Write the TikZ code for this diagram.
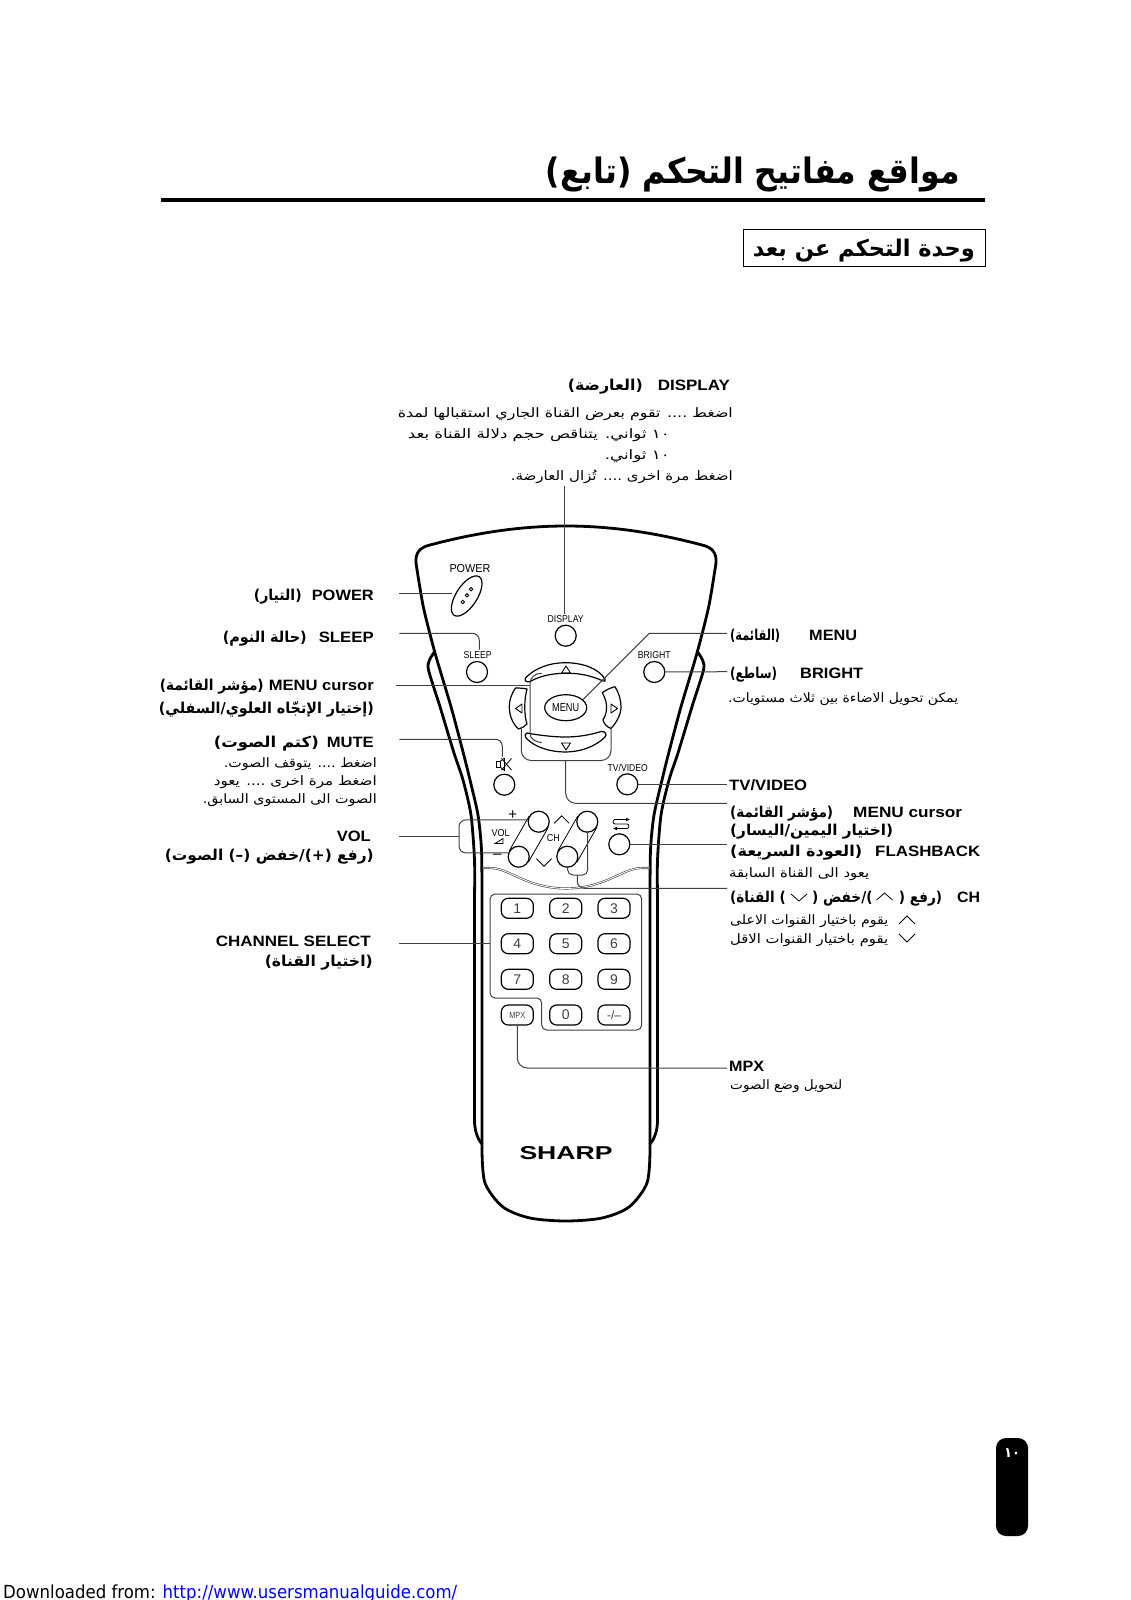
\documentclass[tikz,border=0pt]{standalone}
\usepackage{graphicx}
\usepackage{fontspec}
\usetikzlibrary{shapes.geometric,arrows.meta}
\setmainfont{Liberation Sans}
\newfontfamily\arfont[Script=Arabic]{DejaVu Sans}
\newfontfamily\dvfont{DejaVu Sans}
\TeXXeTstate=1
\newcommand\arbfit[2]{\resizebox{#1pt}{\height}{\arfont\bfseries #2}}
\newcommand\arrfit[2]{\resizebox{#1pt}{\height}{\arfont #2}}
\newcommand\latfit[2]{\resizebox{#1pt}{\height}{\bfseries #2}}
\newcommand\regfit[2]{\resizebox{#1pt}{\height}{#2}}
\newcommand\gapx[1]{\hspace*{#1pt}}
\definecolor{connc}{gray}{0.25}
\tikzset{
  x=1pt,y=-1pt,
  lab/.style={inner sep=0pt,font=\fontsize{15}{17}\selectfont},
  sub/.style={inner sep=0pt,font=\fontsize{13}{15}\selectfont},
  rem/.style={inner sep=0pt,font=\fontsize{11.5}{13}\selectfont},
  btn/.style={circle,draw=black,line width=1.2pt,fill=white,minimum size=21pt,inner sep=0pt},
  keyb/.style={rectangle,rounded corners=7pt,draw=black,line width=1.2pt,fill=white,minimum width=32pt,minimum height=20pt,inner sep=0pt,font=\fontsize{14}{16}\selectfont,text=black!75},
  conn/.style={draw=connc,line width=1pt,rounded corners=7pt},
  shell/.style={draw=black,line width=2.8pt,line join=round,line cap=round},
  pad/.style={draw=black,line width=1.2pt,line join=round,fill=white},
  tri/.style={draw=black,line width=.9pt,line join=round},
  thinl/.style={draw=black,line width=.8pt},
}
\begin{document}
\begin{tikzpicture}
\useasboundingbox (0,0) rectangle (1131,1600);
% header
\node[inner sep=0pt,anchor=base east,font=\fontsize{35}{38}\selectfont] (title) at (960,183) {\arbfit{414}{\beginR مواقع مفاتيح التحكم (تابع)\endR}};
\coordinate (ruleL) at (161,200); \coordinate (ruleR) at (985,200);
\draw[line width=3.6pt] (ruleL) -- (ruleR);
\node[draw=black,line width=.9pt,minimum width=242pt,minimum height=37pt,inner sep=0pt] (subbox) at (864,247.5) {};
\node[inner sep=0pt,anchor=base east,font=\fontsize{23}{25}\selectfont] (subtitle) at (975,256) {\arbfit{222}{\beginR وحدة التحكم عن بعد\endR}};
% display text
\node[lab,anchor=base east] (ldisplay) at (730,390) {\arbfit{75}{\beginR(العارضة)\endR}\gapx{15}\latfit{72}{DISPLAY}};
\node[sub,anchor=base east] (d1) at (733,417) {\arrfit{335}{\beginR اضغط .... تقوم بعرض القناة الجاري استقبالها لمدة\endR}};
\node[sub,anchor=base east] (d2) at (670,438.5) {\arrfit{262}{\beginR\beginL ١٠\endL{} ثواني. يتناقص حجم دلالة القناة بعد\endR}};
\node[sub,anchor=base east] (d3) at (670,459) {\arrfit{65}{\beginR\beginL ١٠\endL{} ثواني.\endR}};
\node[sub,anchor=base east] (d4) at (733,480.5) {\arrfit{222}{\beginR اضغط مرة اخرى .... تُزال العارضة.\endR}};
% left labels
\node[lab,anchor=base east] (lpower) at (374,600) {\arbfit{48}{\beginR(التيار)\endR}\gapx{10}\latfit{62}{POWER}};
\node[lab,anchor=base east] (lsleep) at (374,642.5) {\arbfit{84}{\beginR(حالة النوم)\endR}\gapx{12}\latfit{55}{SLEEP}};
\node[lab,anchor=base east] (lcursor) at (374,690) {\arbfit{104}{\beginR(مؤشر القائمة)\endR}\gapx{5}\latfit{105}{MENU cursor}};
\node[lab,anchor=base east] (lcursorb) at (374,713) {\arbfit{215}{\beginR(إختيار الإتجّاه العلوي/السفلي)\endR}};
\node[lab,anchor=base east] (lmute) at (374,747) {\arbfit{105}{\beginR(كتم الصوت)\endR}\gapx{8}\latfit{47}{MUTE}};
\node[sub,anchor=base east] (m1) at (377,767) {\arrfit{153}{\beginR اضغط .... يتوقف الصوت.\endR}};
\node[sub,anchor=base east] (m2) at (377,785) {\arrfit{163}{\beginR اضغط مرة اخرى .... يعود\endR}};
\node[sub,anchor=base east] (m3) at (377,803) {\arrfit{174}{\beginR الصوت الى المستوى السابق.\endR}};
\node[lab,anchor=base east] (lvol) at (371,841) {\latfit{34}{VOL}};
\node[lab,anchor=base east] (lvolb) at (374,860) {\arbfit{209}{\beginR(رفع (+)/خفض (–) الصوت)\endR}};
\node[lab,anchor=base east] (lchan) at (371,946) {\latfit{155}{CHANNEL SELECT}};
\node[lab,anchor=base east] (lchanb) at (373,966) {\arbfit{108}{\beginR(اختيار القناة)\endR}};
% right labels
\node[lab,anchor=base west] (lmenu) at (730,640) {\arbfit{50}{\beginR(القائمة)\endR}\gapx{29}\latfit{48}{MENU}};
\node[lab,anchor=base west] (lbright) at (730,678) {\arbfit{47}{\beginR(ساطع)\endR}\gapx{23}\latfit{63}{BRIGHT}};
\node[sub,anchor=base west] (b1) at (728,702) {\arrfit{230}{\beginR يمكن تحويل الاضاءة بين ثلاث مستويات.\endR}};
\node[lab,anchor=base west] (ltv) at (729,790) {\latfit{78}{TV/VIDEO}};
\node[lab,anchor=base west] (lcur) at (730,817) {\arbfit{103}{\beginR(مؤشر القائمة)\endR}\gapx{20}\latfit{109}{MENU cursor}};
\node[lab,anchor=base west] (lcurb) at (730,835) {\arbfit{163}{\beginR(اختيار اليمين/اليسار)\endR}};
\node[lab,anchor=base west] (lflash) at (730,856) {\arbfit{132}{\beginR(العودة السريعة)\endR}\gapx{13}\latfit{105}{FLASHBACK}};
\node[sub,anchor=base west] (f1) at (729,877) {\arrfit{140}{\beginR يعود الى القناة السابقة\endR}};
\node[lab,anchor=base west] (lch) at (730,902) {\arbfit{212}{\beginR(رفع (\gapx{29})/خفض (\gapx{29}) القناة)\endR}\gapx{15}\latfit{23}{CH}};
\node[sub,anchor=base west] (c1) at (730,924) {\arrfit{158}{\beginR يقوم باختيار القنوات الاعلى\endR}};
\node[sub,anchor=base west] (c2) at (730,943) {\arrfit{158}{\beginR يقوم باختيار القنوات الاقل\endR}};
\node[lab,anchor=base west] (lmpx) at (729,1071) {\latfit{35}{MPX}};
\node[sub,anchor=base west] (x1) at (730,1089) {\arrfit{112}{\beginR لتحويل وضع الصوت\endR}};
% chevrons in text
\coordinate (cu1) at (884.5,897); \coordinate (cd1) at (799,897);
\coordinate (cu2) at (907,920); \coordinate (cd2) at (907,938);
\draw[thinl] ([shift={(-8,3)}]cu1) -- ([shift={(0,-4)}]cu1) -- ([shift={(8,3)}]cu1);
\draw[thinl] ([shift={(-8,-3)}]cd1) -- ([shift={(0,4)}]cd1) -- ([shift={(8,-3)}]cd1);
\draw[thinl] ([shift={(-8,4)}]cu2) -- ([shift={(0,-4)}]cu2) -- ([shift={(8,4)}]cu2);
\draw[thinl] ([shift={(-8,-4)}]cd2) -- ([shift={(0,4)}]cd2) -- ([shift={(8,-4)}]cd2);
% remote shell
\draw[shell] plot[smooth,tension=.45] coordinates {(416,563) (423.3,606.7) (435,653) (451,706.7) (463.3,753) (470,780) (478,815) (481.5,850) (482,900)} -- (482,1150) plot[smooth,tension=.5] coordinates {(482,1150) (485,1183) (503,1207) (530,1218) (566,1221) (602,1218) (629,1207) (647,1183) (650,1150)} -- (650,900) plot[smooth,tension=.45] coordinates {(650,900) (650.5,850) (654,815) (662,780) (668.7,753) (681,706.7) (697,653) (708.7,606.7) (716,563)};
\draw[shell] (416,563) .. controls (415,552) and (421,547) .. (430,545) .. controls (475,533) and (520,526) .. (566,526) .. controls (612,526) and (657,533) .. (702,545) .. controls (711,547) and (717,552) .. (716,563);
\begin{scope}
\draw[shell] plot[smooth,tension=.45] coordinates {(435,651) (429.5,660) (428.5,670) (440,706.7) (454,753) (463,780) (471,815) (474.5,860) (474.5,900)} -- (474.5,1120) .. controls (474.5,1130) and (477,1138) .. (482,1144);
\end{scope}
\begin{scope}[shift={(1132,0)},xscale=-1]
\draw[shell] plot[smooth,tension=.45] coordinates {(435,651) (429.5,660) (428.5,670) (440,706.7) (454,753) (463,780) (471,815) (474.5,860) (474.5,900)} -- (474.5,1120) .. controls (474.5,1130) and (477,1138) .. (482,1144);
\end{scope}
% separator
\coordinate (sepL) at (482.5,868); \coordinate (sepR) at (649.5,868);
\draw[draw=connc,line width=.6pt,double=white,double distance=.9pt] (sepL) -- (490,868) .. controls (510,868) and (525,888) .. (566,888.5) .. controls (607,888) and (622,868) .. (642,868) -- (sepR);
% d-pad
\draw[pad] (525.7,677.7) .. controls (535,668) and (550,662.7) .. (565,662.7) .. controls (582,662.7) and (598,668) .. (605,679) .. controls (606,681) and (605,682) .. (603,681) .. controls (590,675) and (578,673) .. (565,673.3) .. controls (552,673.3) and (540,676) .. (530,681.5) .. controls (526,683) and (524,680) .. (525.7,677.7) -- cycle;
\draw[pad] (527,733) .. controls (540,735.5) and (555,737) .. (565,737) .. controls (578,737) and (590,735) .. (601,731.5) .. controls (606,731) and (607,735) .. (605,737) .. controls (595,747) and (580,752) .. (565,752) .. controls (550,752) and (535,747) .. (527,739) .. controls (524,736) and (525,733) .. (527,733) -- cycle;
\draw[pad] (527,689) .. controls (522,688) and (518,688) .. (515.5,688) .. controls (511,695) and (509.3,700) .. (509.3,707) .. controls (509.3,716) and (513,724) .. (518.5,729) .. controls (522,728) and (525,726.5) .. (527,724) .. controls (524,715) and (524,700) .. (527,689) -- cycle;
\draw[pad] (602.3,692.7) .. controls (606,690) and (611,687.5) .. (615,686.7) .. controls (619,693) and (621,700) .. (621,707) .. controls (621,715) and (616,723) .. (611,728.5) .. controls (607,727) and (604,724) .. (603,720) .. controls (606,715) and (607,710) .. (606.5,705) .. controls (606,700) and (604,696) .. (602.3,692.7) -- cycle;
\draw[tri] (561.5,673) -- (566,666) -- (570.5,673) -- cycle;
\draw[tri] (561.5,743) -- (566,750) -- (570.5,743) -- cycle;
\draw[tri] (522,704) -- (515.5,708.5) -- (522,713) -- cycle;
\draw[tri] (611,704) -- (617.5,708.5) -- (611,713) -- cycle;
\node[ellipse,draw=black,line width=1.2pt,fill=white,minimum width=42pt,minimum height=26pt,inner sep=0pt,font=\fontsize{11.5}{13}\selectfont] (menub) at (565.7,707.7) {\regfit{27}{MENU}};
% buttons
\node[ellipse,rotate=57,draw=black,line width=1.2pt,fill=white,minimum width=46pt,minimum height=21pt,inner sep=0pt] (power) at (466.7,596) {};
\foreach \n/\px/\py in {pa/462.7/602,pb/467/595.3,pc/471/589.3}
  \node[circle,draw=black,line width=.8pt,minimum size=3.5pt,inner sep=0pt] (\n) at (\px,\py) {};
\node[btn] (display) at (565.7,635.7) {};
\node[btn] (sleep) at (477,672) {};
\node[btn] (bright) at (654.3,672) {};
\node[btn] (mute) at (504.3,784.7) {};
\node[btn] (tv) at (627.3,784.3) {};
\node[btn] (flash) at (619.3,844.3) {};
\node[btn] (vup) at (538.7,821.7) {};
\node[btn] (vdn) at (518.7,856.7) {};
\node[btn] (cup) at (587.3,821.7) {};
\node[btn] (cdn) at (567.3,856.7) {};
\draw[thinl] (vup.150) -- (vdn.150) (vup.-30) -- (vdn.-30);
\draw[thinl] (cup.150) -- (cdn.150) (cup.-30) -- (cdn.-30);
% remote captions
\node[rem] (tpower) at (470,569) {\regfit{41}{POWER}};
\node[rem,font=\fontsize{10}{12}\selectfont] (tdisplay) at (565.7,619.5) {\regfit{36}{DISPLAY}};
\node[rem,font=\fontsize{10}{12}\selectfont] (tsleep) at (477.7,655.5) {\regfit{28}{SLEEP}};
\node[rem,font=\fontsize{10}{12}\selectfont] (tbright) at (654.3,655.5) {\regfit{33}{BRIGHT}};
\node[rem,font=\fontsize{10}{12}\selectfont] (ttv) at (627.7,767.5) {\regfit{40}{TV/VIDEO}};
\node[rem,font=\fontsize{10}{12}\selectfont] (tvol) at (500.7,833) {\regfit{18}{VOL}};
\node[rem,font=\fontsize{10}{12}\selectfont] (tch) at (553.3,838.5) {\regfit{13}{CH}};
\node[rem,font=\fontsize{15}{17}\selectfont] (tplus) at (512.7,815.2) {+};
\node[rem,font=\fontsize{15}{17}\selectfont] (tminus) at (497.3,856) {–};
\coordinate (chu) at (561.7,818.3); \coordinate (chd) at (544,861.7);
\draw[thinl] ([shift={(-7.5,5)}]chu) -- ([shift={(0,-2.5)}]chu) -- ([shift={(7.5,5)}]chu);
\draw[thinl] ([shift={(-7.5,-3)}]chd) -- ([shift={(0,4.5)}]chd) -- ([shift={(7.5,-3)}]chd);
\draw[thinl] (495,843.5) -- (503,838.5) -- (503,843.5) -- cycle;
% mute icon
\draw[thinl] (496.7,761.5) rectangle (500,767);
\draw[thinl] (500,761.5) -- (504.5,758) (500,767) -- (504.5,770.5) -- (504.5,758);
\draw[thinl] (501.5,758.5) -- (511.5,770) (511.5,758.5) -- (501.5,770);
% flashback icon
\draw[thinl,-{Latex[length=4pt,width=4pt]}] (615,819.5) -- (630,819.5);
\draw[thinl,-{Latex[length=4pt,width=4pt]}] (627,828.5) -- (613,828.5);
\draw[thinl] (615,819.5) .. controls (612.5,819.5) and (612.5,824) .. (615,824) -- (627,824) .. controls (629.5,824) and (629.5,828.5) .. (627,828.5);
% keypad
\node[keyb] (k1) at (517.3,908.3) {1};
\node[keyb] (k2) at (565.7,908.3) {2};
\node[keyb] (k3) at (614,908.3) {3};
\node[keyb] (k4) at (517.3,943.7) {4};
\node[keyb] (k5) at (565.7,943.7) {5};
\node[keyb] (k6) at (614,943.7) {6};
\node[keyb] (k7) at (517.3,979.3) {7};
\node[keyb] (k8) at (565.7,979.3) {8};
\node[keyb] (k9) at (614,979.3) {9};
\node[keyb] (k0) at (565.7,1015) {0};
\node[keyb,font=\fontsize{12}{14}\selectfont] (kd) at (614,1015) {-/--};
\node[keyb,font=\fontsize{9}{11}\selectfont] (mpx) at (517.3,1015) {\regfit{16}{MPX}};
\coordinate (kp) at (490,943.3);
\draw[conn,rounded corners=5pt] (kp) -- (490,894) -- (641.7,894) -- (641.7,1030) -- (541.7,1030) -- (541.7,998) -- (490,998) -- cycle;
% SHARP
\node[inner sep=0pt,font=\fontsize{16}{18}\selectfont] (sharp) at (566,1153.5) {\resizebox{93pt}{13pt}{\bfseries SHARP}};
% connectors
\coordinate (cpower) at (399.3,593.3);
\coordinate (pwr) at (451.7,593.3);
\coordinate (csleep) at (399.3,633.3);
\coordinate (slp) at (479.3,649.5);
\coordinate (ccurl) at (395.7,685.7);
\coordinate (cmute) at (399.3,739.3);
\coordinate (mti) at (502.3,756.7);
\coordinate (cvol) at (399.3,836.7);
\coordinate (cchan) at (398.6,943.3);
\coordinate (rmenu) at (727,633.3);
\coordinate (menuk) at (649.3,633.3);
\coordinate (rbright) at (727,671.7);
\coordinate (rtv) at (727,784.3);
\coordinate (rcur) at (727,803.3);
\coordinate (rflash) at (727,844.3);
\coordinate (rch) at (727,888.3);
\coordinate (rmpx) at (727,1068);
\coordinate (dtop) at (564.5,486);
\coordinate (dbot) at (564.5,614);
\draw[conn] (dtop) -- (dbot);
\draw[conn] (cpower) -- (pwr);
\draw[conn] (csleep) -| (slp);
\coordinate (cbl) at (530,685.7);
\draw[conn] (ccurl) -- (cbl);
\coordinate (bt1) at (541.7,673.3); \coordinate (bt2) at (541.7,742.5);
\draw[draw=connc,line width=1pt] (bt1) .. controls (535,673.5) and (530,677) .. (530,684) -- (530,733) .. controls (530,739) and (535,742) .. (bt2);
\draw[conn] (cmute) -| (mti);
\coordinate (vb) at (459,836.7);
\draw[conn] (cvol) -- (vb);
\draw[conn] (vup.170) -| (vb) |- (vdn.160);
\draw[conn] (cchan) -- (kp);
\draw[conn,rounded corners=0pt] (menub.25) -- (menuk) -- (rmenu);
\draw[conn] (bright) -- (rbright);
\draw[conn] (tv) -- (rtv);
\draw[conn] (flash) -- (rflash);
\coordinate (bc) at (565.7,760.5);
\coordinate (blL) at (521.3,726.7); \coordinate (blR) at (611,726.7);
\draw[conn,rounded corners=10pt] (blL) |- (bc) -| (blR);
\draw[conn,rounded corners=10pt] (bc) |- (rcur);
\coordinate (cc) at (577.3,875);
\coordinate (cu) at (587.7,831); \coordinate (cd) at (567.7,866);
\draw[conn,rounded corners=5pt] (cu) |- (cc);
\draw[conn,rounded corners=5pt] (cd) |- (cc);
\draw[conn] (cc) |- (rch);
\draw[conn,rounded corners=10pt] (mpx) |- (rmpx);
% page number
\node[rectangle,fill=black,rounded corners=10pt,minimum width=32pt,minimum height=98pt,inner sep=0pt] (pageb) at (1012,1487) {};
\node[inner sep=0pt,text=white,font=\fontsize{14}{16}\selectfont] (pagen) at (1012,1453) {\resizebox{16pt}{\height}{\arfont\bfseries ١٠}};
% footer
\node[inner sep=0pt,anchor=base west,font=\fontsize{18}{20}\selectfont] (foot) at (3,1598) {\resizebox{454pt}{\height}{\dvfont Downloaded from: \textcolor{blue}{http://www.usersmanualguide.com/}}};
\end{tikzpicture}
\end{document}
